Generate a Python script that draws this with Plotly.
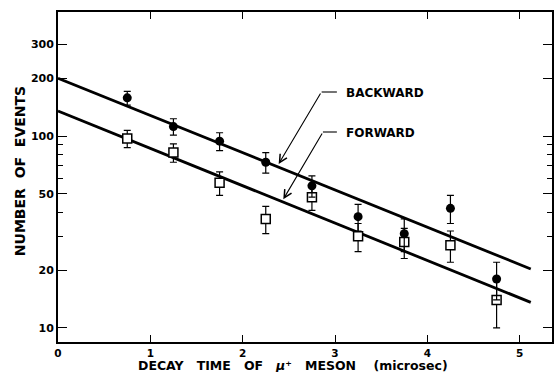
import plotly.graph_objects as go
import math

# ---- data ----
decay_time = [0.75, 1.25, 1.75, 2.25, 2.75, 3.25, 3.75, 4.25, 4.75]
backward_counts = [158, 112, 94, 73, 55, 38, 31, 42, 18]
backward_err = [13, 11, 10, 9, 7, 6, 6, 7, 4]
forward_counts = [97, 82, 57, 37, 48, 30, 28, 27, 14]
forward_err = [10, 9, 8, 6, 7, 5, 5, 5, 4]

fit_time = [0.0, 5.12]
backward_fit = [200, 20.3]
forward_fit = [135, 13.6]

y_tickvals = [10, 20, 50, 100, 200, 300]
y_minor = [30, 40, 60, 70, 80, 90]
x_tickvals = [0, 1, 2, 3, 4, 5]

FONT = "DejaVu Sans"
BOLD = "<b>%s</b>"
SP = "&nbsp;"

fig = go.Figure()

fig.add_trace(go.Scatter(x=fit_time, y=backward_fit, mode="lines",
                         line=dict(color="black", width=2.8), showlegend=False))
fig.add_trace(go.Scatter(x=fit_time, y=forward_fit, mode="lines",
                         line=dict(color="black", width=2.8), showlegend=False))

fig.add_trace(go.Scatter(
    x=decay_time, y=forward_counts, mode="markers",
    error_y=dict(type="data", array=forward_err, color="black", thickness=1.2, width=3.5),
    marker=dict(symbol="square", size=9, color="white", line=dict(color="black", width=1.5)),
    showlegend=False))
fig.add_trace(go.Scatter(
    x=decay_time, y=backward_counts, mode="markers",
    error_y=dict(type="data", array=backward_err, color="black", thickness=1.2, width=3.5),
    marker=dict(symbol="circle", size=9, color="black"),
    showlegend=False))

L, R, T, B = 58, 1, 12, 30
W, H = 555, 372
pw, ph = W - L - R, H - T - B

def px(xp):
    return (xp - L) / pw

def py(yp):
    return (H - B - yp) / ph

xtitle = (SP * 3).join(["DECAY", "TIME", "OF", "<i>μ⁺</i>", "MESON", SP + "(microsec)"])

annotations = [
    # axis titles
    dict(text=BOLD % xtitle,
         xref="paper", yref="paper", x=px(294), y=py(365), xanchor="center", yanchor="middle",
         showarrow=False, font=dict(family=FONT, size=12.5, color="black")),
    dict(text=BOLD % (SP * 2).join(["NUMBER", "OF", "EVENTS"]),
         xref="paper", yref="paper", x=px(20), y=py(171), xanchor="center", yanchor="middle",
         textangle=-90, showarrow=False, font=dict(family=FONT, size=14, color="black")),
    # labels
    dict(text=BOLD % "BACKWARD", xref="paper", yref="paper", x=px(345), y=py(92.7),
         xanchor="left", yanchor="middle", showarrow=False,
         font=dict(family=FONT, size=12, color="black")),
    dict(text=BOLD % "FORWARD", xref="paper", yref="paper", x=px(345), y=py(132.7),
         xanchor="left", yanchor="middle", showarrow=False,
         font=dict(family=FONT, size=12, color="black")),
    # arrows (tips in data coords, log10 for y)
    dict(text="", x=2.39, y=math.log10(71.5), xref="x", yref="y",
         ax=42.7, ay=-72, showarrow=True, arrowhead=5, arrowsize=1.4, arrowwidth=1.1,
         arrowcolor="black", standoff=0, startstandoff=0),
    dict(text="", x=2.44, y=math.log10(46.8), xref="x", yref="y",
         ax=39.7, ay=-67.3, showarrow=True, arrowhead=5, arrowsize=1.4, arrowwidth=1.1,
         arrowcolor="black", standoff=0, startstandoff=0),
]

shapes = [
    dict(type="line", xref="paper", yref="paper", x0=px(322.7), x1=px(338), y0=py(92), y1=py(92),
         line=dict(color="black", width=1.1)),
    dict(type="line", xref="paper", yref="paper", x0=px(324), x1=px(338), y0=py(132), y1=py(132),
         line=dict(color="black", width=1.1)),
]

fig.update_layout(
    width=W, height=H,
    margin=dict(l=L, r=R, t=T, b=B, pad=0),
    paper_bgcolor="white", plot_bgcolor="white",
    font=dict(family=FONT, color="black"),
    annotations=annotations, shapes=shapes,
    xaxis=dict(range=[0, 5.35], tickvals=x_tickvals, ticktext=[BOLD % v for v in x_tickvals],
               ticks="inside", ticklen=7, tickwidth=1.2, tickcolor="black",
               showline=True, linecolor="black", linewidth=1.8, mirror="ticks",
               showgrid=False, zeroline=False, tickfont=dict(family=FONT, size=10.5)),
    yaxis=dict(type="log", range=[math.log10(8.45), 2.646], tickvals=y_tickvals,
               ticktext=[BOLD % v for v in y_tickvals],
               ticks="inside", ticklen=9, tickwidth=1.2, tickcolor="black",
               showline=True, linecolor="black", linewidth=1.8, mirror="ticks",
               showgrid=False, zeroline=False, tickfont=dict(family=FONT, size=11),
               minor=dict(tickvals=y_minor, ticks="inside", ticklen=5, tickwidth=1, tickcolor="black", showgrid=False)),
)

fig.write_html("out.html")
